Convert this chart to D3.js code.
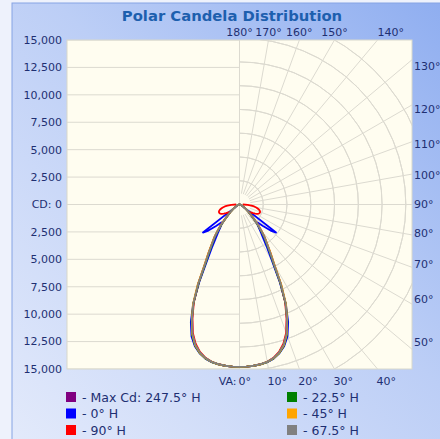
<!DOCTYPE html>
<html><head><meta charset="utf-8">
<script src="https://cdn.jsdelivr.net/npm/d3@7"></script>
<style>html,body{margin:0;padding:0;background:#fff;}svg{display:block;}</style>
</head><body>
<svg id="c" width="440" height="439"></svg>
<script>
// ---- data ----
const vAngles = [0,2.5,5,7.5,10,12.5,15,17.5,20,22.5,25,27.5,30,32.5,35,37.5,40,42.5,45,47.5,50,52.5,55,57.5,60,62.5,65,67.5,70,72.5,75,77.5,80,82.5,85,87.5,90];
const seriesNames = ["- Max Cd: 247.5° H","- 0° H","- 90° H","- 22.5° H","- 45° H","- 67.5° H"];
const seriesColors = ["#800080","#0000ff","#ff0000","#008000","#ffa500","#808080"];
const cdMax247 = [14800,14790,14760,14700,14580,14350,13980,13400,12550,11300,9950,8150,6300,5200,4300,3700,3000,2400,1800,1400,1100,850,700,550,420,320,240,180,130,100,70,50,35,20,10,5,0];
const cd0      = [14800,14790,14760,14700,14600,14400,14050,13550,12800,11600,10000,7900,5900,4700,3800,3200,2700,2400,2300,2900,3700,4200,900,500,380,290,220,170,120,90,60,45,30,20,10,5,0];
const cd90     = [14800,14790,14760,14690,14560,14320,13920,13300,12450,11200,9850,8100,6300,5250,4400,3750,3050,2450,1850,1450,1150,1150,1250,1450,1650,1850,1950,2000,2000,1950,1850,1700,1550,1350,1100,750,300];
const cd22     = [14800,14790,14760,14700,14590,14380,14020,13480,12650,11400,9950,8050,6200,5100,4250,3650,2950,2350,1800,1400,1100,850,700,550,420,320,240,180,130,100,70,50,35,20,10,5,0];
const cd45     = [14800,14790,14760,14700,14580,14360,14000,13450,12600,11350,10050,8300,6450,5350,4450,3800,3100,2450,1850,1450,1100,850,700,550,420,320,240,180,130,100,70,50,35,20,10,5,0];
const cd67     = [14800,14790,14760,14690,14570,14340,13960,13400,12550,11300,9950,8150,6300,5200,4350,3700,3000,2400,1800,1400,1100,850,700,550,420,320,240,180,130,100,70,50,35,20,10,5,0];
const seriesValues = [cdMax247, cd0, cd90, cd22, cd45, cd67];
const cdTicks = [15000,12500,10000,7500,5000,2500,0,-2500,-5000,-7500,-10000,-12500,-15000];
const ringFracs = [1/6,2/6,3/6,4/6,5/6,1,7/6,8/6];
const gridAngles = [0,10,20,30,40,50,60,70,80,90,100,110,120,130,140,150,160,170,180];
const topLabelAngles = [180,170,160,150,140];
const rightLabelAngles = [130,120,110,100,90,80,70,60,50];
const bottomLabelAngles = [0,10,20,30,40];

// ---- layout ----
const svg = d3.select("#c");
const W = 440, H = 439;
const plot = {x0:67, x1:412, y0:40, y1:369};
const y = d3.scaleLinear().domain([-15000,15000]).range([plot.y1, plot.y0]);
const cx = 239.5, cy = y(0);
const r = d3.scaleLinear().domain([0,15000]).range([0, y(0)-y(15000)]);
const R = r(15000);
const ringStep = r(13000);

const defs = svg.append("defs");
const g1 = defs.append("linearGradient").attr("id","bg").attr("x1","0").attr("y1","1").attr("x2","1").attr("y2","0");
g1.append("stop").attr("offset","0").attr("stop-color","#e3eafb");
g1.append("stop").attr("offset","0.55").attr("stop-color","#bccef6");
g1.append("stop").attr("offset","1").attr("stop-color","#8eadf0");
defs.append("clipPath").attr("id","pc").append("rect")
  .attr("x",plot.x0).attr("y",plot.y0).attr("width",plot.x1-plot.x0).attr("height",plot.y1-plot.y0);

svg.append("rect").attr("width",W).attr("height",H).attr("fill","#eef2fc");
svg.append("rect").attr("x",12).attr("y",3).attr("width",W).attr("height",H)
  .attr("fill","url(#bg)").attr("stroke","#86a3e4").attr("stroke-width",1);

svg.append("rect").attr("x",plot.x0).attr("y",plot.y0).attr("width",plot.x1-plot.x0).attr("height",plot.y1-plot.y0)
  .attr("fill","#fffdf0").attr("stroke","#d8d8cc");

const grid = svg.append("g").attr("clip-path","url(#pc)").attr("stroke","#dcdad0").attr("fill","none").attr("stroke-width",1);
grid.selectAll("line.h").data(cdTicks).join("line").attr("class","h")
  .attr("x1",plot.x0).attr("x2",cx).attr("y1",d=>y(d)).attr("y2",d=>y(d));
const arc = d3.arc().startAngle(0).endAngle(Math.PI);
grid.selectAll("path.ring").data(ringFracs).join("path").attr("class","ring")
  .attr("transform",`translate(${cx},${cy})`)
  .attr("d",d=>arc({innerRadius:d*ringStep, outerRadius:d*ringStep}));
const toXY = (ang, rad) => [cx + rad*Math.sin(ang*Math.PI/180), cy + rad*Math.cos(ang*Math.PI/180)];
grid.selectAll("line.rad").data(gridAngles).join("line").attr("class","rad")
  .attr("x1",d=>toXY(d, 11)[0]).attr("y1",d=>toXY(d, 11)[1])
  .attr("x2",d=>toXY(d, 400)[0]).attr("y2",d=>toXY(d, 400)[1]);
grid.append("line").attr("x1",cx).attr("x2",cx).attr("y1",plot.y0).attr("y2",plot.y1);

const lineGen = d3.line().x(d=>d[0]).y(d=>d[1]);
const curves = svg.append("g").attr("clip-path","url(#pc)").attr("fill","none").attr("stroke-width",1.8).attr("stroke-linejoin","round");
seriesValues.forEach((vals,i)=>{
  const right = vAngles.map((a,k)=>toXY(a, r(vals[k])));
  const left = vAngles.map((a,k)=>toXY(-a, r(vals[k])));
  const pts = left.slice().reverse().concat(right.slice(1));
  curves.append("path").attr("d",lineGen(pts)).attr("stroke",seriesColors[i]);
});

const txtColor = "#1e2f72";
const font = "DejaVu Sans, Verdana, sans-serif";
svg.append("g").selectAll("text").data(cdTicks).join("text")
  .attr("x",62).attr("y",d=>y(d)).attr("dy","0.35em").attr("text-anchor","end")
  .attr("font-family",font).attr("font-size",11).attr("fill",txtColor)
  .text(d=> d===0 ? "CD: 0" : d3.format(",")(Math.abs(d)));

svg.append("g").selectAll("text").data(topLabelAngles).join("text")
  .attr("x",d=>cx + R*Math.tan((180-d)*Math.PI/180)).attr("y",36)
  .attr("text-anchor",d=> (180-d) >= 40 ? "start" : "middle")
  .attr("font-family",font).attr("font-size",11).attr("fill",txtColor).text(d=>d+"°");
svg.append("g").selectAll("text").data(rightLabelAngles).join("text")
  .attr("x",414).attr("y",d=>cy + R/Math.tan(d*Math.PI/180)).attr("dy","0.35em")
  .attr("font-family",font).attr("font-size",11).attr("fill",txtColor).text(d=>d+"°");
svg.append("g").selectAll("text").data(bottomLabelAngles).join("text")
  .attr("x",d=>cx - 1 + R*Math.tan(d*Math.PI/180)).attr("y",385)
  .attr("font-family",font).attr("font-size",11).attr("fill",txtColor).text(d=>d+"°");
svg.append("text").attr("x",cx-3).attr("y",385).attr("text-anchor","end")
  .attr("font-family",font).attr("font-size",11).attr("fill",txtColor).text("VA:");

svg.append("text").attr("x",232).attr("y",21).attr("text-anchor","middle")
  .attr("font-family",font).attr("font-weight","bold").attr("font-size",14.8).attr("fill","#1d5fae")
  .text("Polar Candela Distribution");

const legend = svg.append("g");
const legItems = seriesNames.map((n,i)=>({name:n,color:seriesColors[i]}));
const li = legend.selectAll("g").data(legItems).join("g")
  .attr("transform",(d,i)=>`translate(${i<3?66:287},${397+(i%3)*16.5})`);
li.append("rect").attr("x",0).attr("y",-5).attr("width",10).attr("height",10).attr("fill",d=>d.color);
li.append("text").attr("x",16).attr("y",0).attr("dy","0.38em")
  .attr("font-family",font).attr("font-size",12.5).attr("fill","#1e2f72").text(d=>d.name);
</script>
</body></html>
